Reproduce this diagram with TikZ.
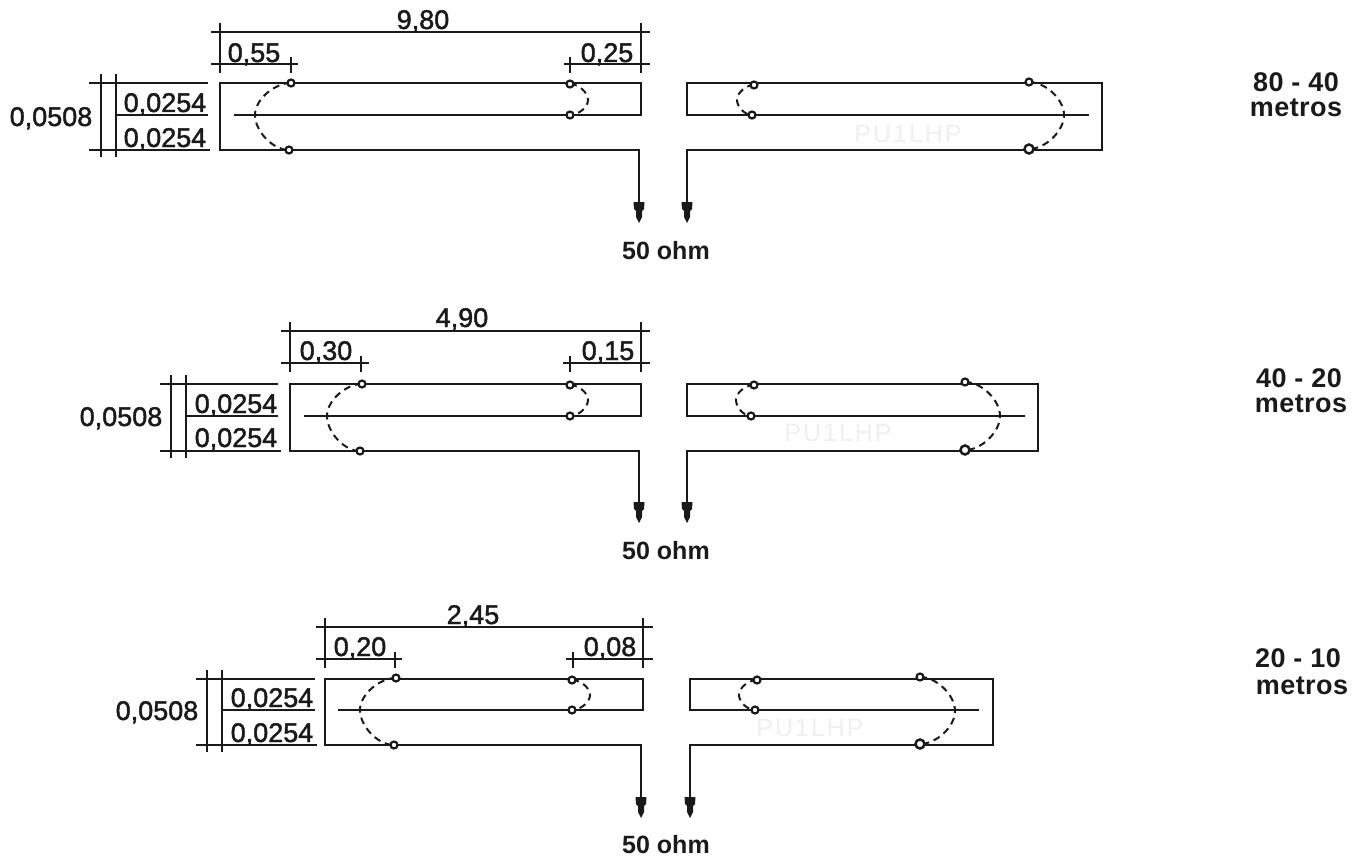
\documentclass[tikz,border=0pt]{standalone}
\usepackage{fontspec}
\setmainfont{Liberation Sans}
\newfontfamily\dimfont[FakeBold=1.6]{Liberation Sans}
\newfontfamily\wmfont[LetterSpace=8]{Liberation Sans}
\newfontfamily\bandfont[LetterSpace=1.5]{Liberation Sans Bold}
\definecolor{ink}{HTML}{1A1A1A}
\newcommand\arm[4]{% feed line with its arrowhead: name, x, ytop, ytip
  \coordinate (#1t) at (#2,#3);
  \coordinate (#1b) at (#2,#4-6);
  \draw[wire] (#1t) -- (#1b);
  \fill[ink] (#2-5.5,#4-21) -- (#2+5.5,#4-21) -- (#2+5,#4-14) -- (#2+3,#4-12) -- (#2+3,#4-6) -- (#2,#4) -- (#2-3,#4-6) -- (#2-3,#4-12) -- (#2-5,#4-14) -- cycle;
}
\tikzset{
  x=1pt,y=-1pt,
  wire/.style={draw=ink,line width=2.2pt,line cap=rect},
  dimline/.style={draw=ink,line width=2pt},
  jump/.style={draw=ink,line width=2pt,dash pattern=on 7pt off 5pt,looseness=.85},
  pin/.style={circle,draw=ink,line width=2.2pt,fill=white,inner sep=0pt,minimum size=7pt},
  bigpin/.style={pin,minimum size=9pt,line width=2.5pt},
  dimtext/.style={text=ink,inner sep=0pt,anchor=base,font=\dimfont\fontsize{27}{27}\selectfont},
  ohm/.style={text=ink,inner sep=0pt,anchor=base,font=\bfseries\fontsize{25}{25}\selectfont},
  band/.style={text=ink,inner sep=0pt,anchor=base,font=\bandfont\fontsize{27}{27}\selectfont},
  wmark/.style={text=ink!7,inner sep=0pt,font=\wmfont\fontsize{25}{25}\selectfont},
}
\begin{document}
\begin{tikzpicture}
\useasboundingbox (0,0) rectangle (1365,856);
% ---------- 80-40 ----------
\node[wmark] (wm1) at (908,134) {PU1LHP};
\draw[dimline] (211,32) -- (650,32);
\draw[dimline] (220,23) -- (220,73);
\draw[dimline] (641,23) -- (641,73);
\draw[dimline] (211,64) -- (298,64);
\draw[dimline] (291,57) -- (291,73);
\draw[dimline] (564,64) -- (650,64);
\draw[dimline] (570,57) -- (570,73);
\node[dimtext] (a980) at (423,29) {9,80};
\node[dimtext] (a055) at (254,62) {0,55};
\node[dimtext] (a025) at (607,62) {0,25};
\draw[dimline] (89,83) -- (208,83);
\draw[dimline] (116,115) -- (208,115);
\draw[dimline] (89,150) -- (210,150);
\draw[dimline] (101,74) -- (101,157);
\draw[dimline] (116,74) -- (116,157);
\node[dimtext] (a0508) at (51,126) {0,0508};
\node[dimtext] (a0254a) at (165,112) {0,0254};
\node[dimtext] (a0254b) at (165,147) {0,0254};
\draw[wire] (639,150) -- (220,150) -- (220,83) -- (641,83) -- (641,115) -- (235,115);
\arm{af1}{639}{150}{223}
\draw[wire] (687,150) -- (1102,150) -- (1102,83) -- (687,83) -- (687,115) -- (1088,115);
\arm{af2}{687}{150}{223}
\draw[jump] (291,83) to[out=180,in=90] (255,115) to[out=-90,in=180] (289,150);
\draw[jump] (570,84) to[out=0,in=90] (588,100) to[out=-90,in=0] (570,115);
\draw[jump] (754,85) to[out=180,in=90] (737,100) to[out=-90,in=180] (752,115);
\draw[jump] (1029,82) to[out=0,in=90] (1064,115) to[out=-90,in=0] (1029,149);
\node[pin] (ap1) at (291,83) {};
\node[pin] (ap2) at (289,150) {};
\node[pin] (ap3) at (570,84) {};
\node[pin] (ap4) at (570,115) {};
\node[pin] (ap5) at (754,85) {};
\node[pin] (ap6) at (752,115) {};
\node[pin] (ap7) at (1029,82) {};
\node[bigpin] (ap8) at (1029,149) {};
\node[ohm] (aohm) at (666,259) {50 ohm};
\node[band] (ab1) at (1296,92) {80 - 40};
\node[band] (ab2) at (1296,117) {metros};
% ---------- 40-20 ----------
\node[wmark] (wm2) at (838,433) {PU1LHP};
\draw[dimline] (281,331) -- (650,331);
\draw[dimline] (290,322) -- (290,372);
\draw[dimline] (641,322) -- (641,372);
\draw[dimline] (281,363) -- (369,363);
\draw[dimline] (361,356) -- (361,372);
\draw[dimline] (563,363) -- (650,363);
\draw[dimline] (570,356) -- (570,372);
\node[dimtext] (b490) at (462,327) {4,90};
\node[dimtext] (b030) at (326,360) {0,30};
\node[dimtext] (b015) at (608,360) {0,15};
\draw[dimline] (160,384) -- (278,384);
\draw[dimline] (186,416) -- (278,416);
\draw[dimline] (160,451) -- (281,451);
\draw[dimline] (171,375) -- (171,458);
\draw[dimline] (186,375) -- (186,458);
\node[dimtext] (b0508) at (121,426) {0,0508};
\node[dimtext] (b0254a) at (236,413) {0,0254};
\node[dimtext] (b0254b) at (236,447) {0,0254};
\draw[wire] (639,451) -- (290,451) -- (290,384) -- (641,384) -- (641,416) -- (305,416);
\arm{bf1}{639}{451}{523}
\draw[wire] (687,451) -- (1038,451) -- (1038,384) -- (687,384) -- (687,416) -- (1024,416);
\arm{bf2}{687}{451}{523}
\draw[jump] (362,384) to[out=180,in=90] (327,416) to[out=-90,in=180] (360,451);
\draw[jump] (570,385) to[out=0,in=90] (588,400) to[out=-90,in=0] (570,416);
\draw[jump] (754,385) to[out=180,in=90] (736,400) to[out=-90,in=180] (751,416);
\draw[jump] (965,382) to[out=0,in=90] (1000,416) to[out=-90,in=0] (965,450);
\node[pin] (bp1) at (362,384) {};
\node[pin] (bp2) at (360,451) {};
\node[pin] (bp3) at (570,385) {};
\node[pin] (bp4) at (570,416) {};
\node[pin] (bp5) at (754,385) {};
\node[pin] (bp6) at (751,416) {};
\node[pin] (bp7) at (965,382) {};
\node[bigpin] (bp8) at (965,450) {};
\node[ohm] (bohm) at (666,559) {50 ohm};
\node[band] (bb1) at (1299,387) {40 - 20};
\node[band] (bb2) at (1301,412) {metros};
% ---------- 20-10 ----------
\node[wmark] (wm3) at (810,728) {PU1LHP};
\draw[dimline] (316,627) -- (653,627);
\draw[dimline] (325,618) -- (325,668);
\draw[dimline] (643,618) -- (643,668);
\draw[dimline] (316,659) -- (402,659);
\draw[dimline] (395,652) -- (395,668);
\draw[dimline] (566,659) -- (653,659);
\draw[dimline] (573,652) -- (573,668);
\node[dimtext] (c245) at (473,624) {2,45};
\node[dimtext] (c020) at (360,656) {0,20};
\node[dimtext] (c008) at (610,656) {0,08};
\draw[dimline] (196,679) -- (315,679);
\draw[dimline] (222,710) -- (315,710);
\draw[dimline] (196,745) -- (317,745);
\draw[dimline] (207,670) -- (207,752);
\draw[dimline] (222,670) -- (222,752);
\node[dimtext] (c0508) at (157,720) {0,0508};
\node[dimtext] (c0254a) at (272,707) {0,0254};
\node[dimtext] (c0254b) at (272,742) {0,0254};
\draw[wire] (641,745) -- (325,745) -- (325,679) -- (643,679) -- (643,710) -- (339,710);
\arm{cf1}{641}{745}{818}
\draw[wire] (690,745) -- (993,745) -- (993,679) -- (690,679) -- (690,710) -- (978,710);
\arm{cf2}{690}{745}{818}
\draw[jump] (396,678) to[out=180,in=90] (360,710) to[out=-90,in=180] (394,745);
\draw[jump] (572,680) to[out=0,in=90] (590,695) to[out=-90,in=0] (572,710);
\draw[jump] (757,680) to[out=180,in=90] (739,695) to[out=-90,in=180] (755,710);
\draw[jump] (920,677) to[out=0,in=90] (955,711) to[out=-90,in=0] (920,744);
\node[pin] (cp1) at (396,678) {};
\node[pin] (cp2) at (394,745) {};
\node[pin] (cp3) at (572,680) {};
\node[pin] (cp4) at (572,710) {};
\node[pin] (cp5) at (757,680) {};
\node[pin] (cp6) at (755,710) {};
\node[pin] (cp7) at (920,677) {};
\node[bigpin] (cp8) at (920,744) {};
\node[ohm] (cohm) at (666,853) {50 ohm};
\node[band] (cb1) at (1298,667) {20 - 10};
\node[band] (cb2) at (1302,694) {metros};
\end{tikzpicture}
\end{document}
